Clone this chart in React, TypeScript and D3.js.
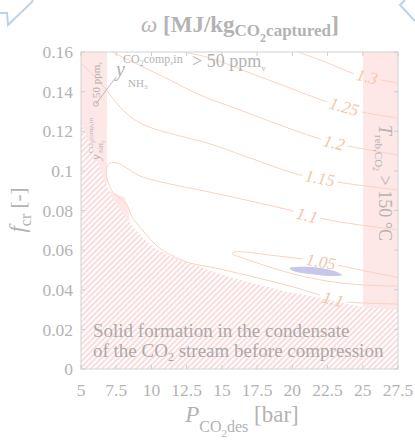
import React from 'react';
import * as d3 from 'd3';

const X_TICKS = [5, 7.5, 10, 12.5, 15, 17.5, 20, 22.5, 25, 27.5];
const Y_TICKS = [0, 0.02, 0.04, 0.06, 0.08, 0.1, 0.12, 0.14, 0.16];
const X_DOMAIN = [5, 27.5];
const Y_DOMAIN = [0, 0.16];

// iso-omega contours: [P_CO2,des (bar), f_cr (-)]
const C_130 = [[20.4, 0.16], [22.32, 0.155], [24.23, 0.1494], [25.3, 0.1474], [26.36, 0.1458], [27.5, 0.1443]];
const C_125 = [[12.24, 0.16], [14.16, 0.157], [17.0, 0.1494], [19.83, 0.1418], [22.67, 0.1343], [23.67, 0.1322], [24.94, 0.1297], [27.5, 0.1267]];
const C_120 = [[7.2, 0.16], [9.19, 0.1532], [11.32, 0.1458], [13.45, 0.1383], [16.29, 0.1307], [19.13, 0.1231], [21.96, 0.1161], [22.96, 0.1141], [23.95, 0.1125], [27.5, 0.108]];
const C_115 = [[5, 0.1544], [5.99, 0.1474], [6.92, 0.1398], [7.77, 0.1322], [8.83, 0.1257], [10.04, 0.1216], [12.03, 0.1176], [14.16, 0.1136], [17.0, 0.1065], [20.54, 0.0979], [21.96, 0.0962], [23.17, 0.0944], [27.5, 0.0903]];
const C_110 = [[27.5, 0.0702], [23.38, 0.0742], [21.96, 0.0762], [21.04, 0.0774], [20.05, 0.0797], [17.0, 0.0848], [13.45, 0.0903], [11.32, 0.0934], [9.19, 0.0974], [8.12, 0.102], [7.56, 0.104], [7.06, 0.104], [6.85, 0.1025], [6.8, 0.0979], [6.95, 0.0939], [7.3, 0.0888], [7.91, 0.0853], [8.34, 0.0818], [8.55, 0.0777], [9.05, 0.0727], [9.54, 0.0686], [10.47, 0.0616], [11.67, 0.0565], [12.74, 0.0535], [14.51, 0.051], [17.0, 0.0469], [19.83, 0.0419], [21.96, 0.0373], [22.89, 0.0351], [23.88, 0.0338], [27.5, 0.0328]];
const C_105 = [[27.5, 0.0462], [24.8, 0.05], [23.17, 0.0525], [22.03, 0.054], [20.76, 0.0555], [18.42, 0.0575], [16.5, 0.0591], [15.93, 0.0591], [15.72, 0.058], [16.29, 0.0565], [17.71, 0.053], [20.05, 0.048], [22.46, 0.0444], [25.02, 0.0424], [27.5, 0.0419]];

const CONTOURS = [C_130, C_125, C_120, C_115, C_110, C_105];
const LABEL_TEXT = ['1.3', '1.25', '1.2', '1.15', '1.1', '1.1', '1.05'];
const LABEL_CONTOUR = [0, 1, 2, 3, 4, 4, 5];
const LABEL_POS = [[25.3, 0.1474], [23.67, 0.1322], [22.96, 0.1141], [21.96, 0.0962], [21.04, 0.0774], [22.89, 0.0351], [22.03, 0.054]];

// optimum region (blue)
const OPTIMUM = [[19.83, 0.051], [20.33, 0.0515], [21.96, 0.051], [23.17, 0.049], [23.53, 0.0474], [22.89, 0.0469], [21.25, 0.048], [20.05, 0.0495]];

// solid formation boundary (hatched below)
const SOLID_BOUNDARY = [[5, 0.1247], [5.5, 0.1156], [6.0, 0.108], [6.35, 0.101], [6.7, 0.0944], [7.2, 0.0868], [7.9, 0.0792], [8.6, 0.0727], [9.4, 0.0661], [10.2, 0.0611], [11.32, 0.057], [12.38, 0.054], [12.95, 0.053], [14.01, 0.05], [15.79, 0.0459], [17.71, 0.0424], [19.34, 0.0394], [21.75, 0.0363], [23.6, 0.0333], [25.02, 0.0313], [27.5, 0.0298]];

// NH3 slip limit region (left) and reboiler temperature limit (right)
const NH3_REGION = [[5, 0.16], [6.85, 0.16], [6.85, 0.0903], [7.55, 0.0885], [8.1, 0.0865], [8.35, 0.082], [8.45, 0.074], [5, 0.074]];
const TREB_REGION = [[25.02, 0.16], [27.5, 0.16], [27.5, 0], [25.02, 0]];

// annotation anchors
const LEADER = [[6.06, 0.1338], [7.5, 0.1475]];

const W = 415, H = 441;
const PX0 = 81, PX1 = 398, PY0 = 52, PY1 = 369;

const GRAY = '#b3b3b3';
const CONTOUR = '#f8d3bd';
const LABEL = '#f3c7aa';
const PINK = '#fde7e7';
const HATCH = '#f7b9b9';
const SERIF = '"Liberation Serif", "Times New Roman", serif';

export default function App() {
  const x = d3.scaleLinear().domain(X_DOMAIN).range([PX0, PX1]);
  const y = d3.scaleLinear().domain(Y_DOMAIN).range([PY1, PY0]);
  const line = d3.line<number[]>().x(d => x(d[0])).y(d => y(d[1]));
  const smooth = d3.line<number[]>().x(d => x(d[0])).y(d => y(d[1])).curve(d3.curveCatmullRom.alpha(0.5));
  const closedSmooth = d3.line<number[]>().x(d => x(d[0])).y(d => y(d[1])).curve(d3.curveCatmullRomClosed.alpha(0.5));

  const hatchPoly = [...SOLID_BOUNDARY, [27.5, 0], [5, 0]];

  const labels = LABEL_TEXT.map((t, k) => {
    const pts = CONTOURS[LABEL_CONTOUR[k]];
    const lp = LABEL_POS[k];
    let bi = 0, bd = Infinity;
    pts.forEach((p, i) => {
      const dd = Math.hypot(x(p[0]) - x(lp[0]), y(p[1]) - y(lp[1]));
      if (dd < bd) { bd = dd; bi = i; }
    });
    const a = pts[Math.max(bi - 1, 0)], b = pts[Math.min(bi + 1, pts.length - 1)];
    let ang = Math.atan2(y(b[1]) - y(a[1]), x(b[0]) - x(a[0])) * 180 / Math.PI;
    if (ang > 90) ang -= 180;
    if (ang < -90) ang += 180;
    const fs = 17;
    const w = t.split('').reduce((s, c) => s + (c === '.' ? 0.25 : 0.5), 0) * fs + 6;
    return { t, px: x(lp[0]), py: y(lp[1]), ang, w, fs };
  });

  const fmtY = (v: number) => (v === 0 ? '0' : String(+v.toFixed(2)));

  return (
    <svg width={W} height={H} style={{ position: 'absolute', left: 0, top: 0, background: '#fff' }} fontFamily={SERIF}>
      <defs>
        <pattern id="hatch" patternUnits="userSpaceOnUse" width={4} height={4} patternTransform="rotate(45)">
          <rect x={0} y={0} width={4} height={4} fill="#ffffff" stroke="none" />
          <line x1={1} y1={-1} x2={1} y2={5} stroke={HATCH} strokeWidth={1} fill="none" />
        </pattern>
        <clipPath id="plotclip">
          <rect x={PX0} y={PY0} width={PX1 - PX0} height={PY1 - PY0} />
        </clipPath>
        <mask id="lblmask" maskUnits="userSpaceOnUse" x={0} y={0} width={W} height={H}>
          <rect x={0} y={0} width={W} height={H} fill="#fff" />
          {labels.map((l, i) => (
            <rect key={i} transform={`translate(${l.px},${l.py}) rotate(${l.ang})`} x={-l.w / 2} y={-7} width={l.w} height={14} fill="#000" />
          ))}
        </mask>
      </defs>

      {/* corner decorations */}
      <polyline points="0,13 7,13 8,25 32,2 33,0" fill="none" stroke="#b9d4ea" strokeWidth={2} />
      <polyline points="405,0 400,5 415,21" fill="none" stroke="#b9d4ea" strokeWidth={2} />

      {/* title */}
      <text x={240} y={32} textAnchor="middle" fill={GRAY} fontSize={23}>
        <tspan fontStyle="italic">ω </tspan>
        <tspan fontWeight="bold">[MJ/kg</tspan>
        <tspan fontWeight="bold" fontSize={17} dy={4}>CO</tspan>
        <tspan fontWeight="bold" fontSize={12} dy={6}>2</tspan>
        <tspan fontWeight="bold" fontSize={17} dy={-6}>captured</tspan>
        <tspan fontWeight="bold" fontSize={24} dy={-4}>]</tspan>
      </text>

      <g clipPath="url(#plotclip)">
        <rect x={PX0} y={PY0} width={PX1 - PX0} height={PY1 - PY0} fill="#fff" />
        <path d={line(NH3_REGION) + 'Z'} fill={PINK} />
        <path d={line(TREB_REGION) + 'Z'} fill={PINK} />
        <path d={line(hatchPoly) + 'Z'} fill="url(#hatch)" stroke="none" />
        <path d={closedSmooth(OPTIMUM) || ''} fill="#c5c7eb" />
        <g mask="url(#lblmask)">
          {CONTOURS.map((c, i) => (
            <path key={i} d={smooth(c) || ''} fill="none" stroke={CONTOUR} strokeWidth={1} />
          ))}
        </g>
        {labels.map((l, i) => (
          <text key={i} transform={`translate(${l.px},${l.py}) rotate(${l.ang})`} textAnchor="middle" dominantBaseline="central"
            fontSize={l.fs} fontStyle="italic" fill={LABEL}>{l.t}</text>
        ))}
      </g>

      {/* frame & ticks */}
      <rect x={PX0} y={PY0} width={PX1 - PX0} height={PY1 - PY0} fill="none" stroke="#d2d2d2" strokeWidth={1} />
      {X_TICKS.map((v, i) => (
        <g key={'x' + i}>
          <line x1={x(v)} x2={x(v)} y1={PY1} y2={PY1 - 4} stroke="#cfcfcf" />
          <line x1={x(v)} x2={x(v)} y1={PY0} y2={PY0 + 4} stroke="#cfcfcf" />
          <text x={x(v)} y={396} textAnchor="middle" fontSize={17.5} fill={GRAY}>{v}</text>
        </g>
      ))}
      {Y_TICKS.map((v, i) => (
        <g key={'y' + i}>
          <line x1={PX0} x2={PX0 + 4} y1={y(v)} y2={y(v)} stroke="#cfcfcf" />
          <line x1={PX1} x2={PX1 - 4} y1={y(v)} y2={y(v)} stroke="#cfcfcf" />
          <text x={73} y={y(v)} dy="0.35em" textAnchor="end" fontSize={17.5} fill={GRAY}>{fmtY(v)}</text>
        </g>
      ))}

      {/* upper annotation */}
      <line x1={x(LEADER[0][0])} y1={y(LEADER[0][1])} x2={x(LEADER[1][0])} y2={y(LEADER[1][1])} stroke="#a9a9a9" strokeWidth={0.8} />
      <circle cx={x(LEADER[0][0])} cy={y(LEADER[0][1])} r={2.4} fill="none" stroke="#a9a9a9" strokeWidth={0.8} />
      <text x={116} y={76} fontSize={20} fontStyle="italic" fill={GRAY}>y</text>
      <text x={123} y={63} fontSize={12} fill={GRAY}>CO<tspan fontSize={8} dy={3}>2</tspan><tspan dy={-3}>comp,in</tspan></text>
      <text x={128} y={87} fontSize={11} fill={GRAY}>NH<tspan fontSize={7} dy={2}>3</tspan></text>
      <text x={192} y={67} fontSize={18} fill={GRAY}>&gt; 50 ppm<tspan fontSize={9} dy={4}>v</tspan></text>

      {/* left band annotation */}
      <g transform="translate(100,160) rotate(-90)" fill={GRAY}>
        <text x={0} y={0} fontSize={13} fontStyle="italic">y</text>
        <text x={7} y={-7} fontSize={7}>CO<tspan fontSize={5} dy={1.5}>2</tspan><tspan dy={-1.5}>comp,in</tspan></text>
        <text x={7} y={3} fontSize={7}>NH<tspan fontSize={5} dy={1.5}>3</tspan></text>
        <text x={62} y={0} fontSize={11}>50 ppm<tspan fontSize={6} dy={2}>v</tspan></text>
      </g>

      {/* right band annotation */}
      <g transform="translate(379,125) rotate(90)" fill={GRAY}>
        <text x={0} y={0} fontSize={18}>
          <tspan fontStyle="italic">T</tspan>
          <tspan fontSize={11} dy={4}>reb,CO</tspan>
          <tspan fontSize={8} dy={2}>2</tspan>
          <tspan fontSize={18} dy={-6}> &gt; 150 °C</tspan>
        </text>
      </g>

      {/* solid formation text */}
      <text x={93} y={337} fontSize={19} fill="#a9a9a9">Solid formation in the condensate</text>
      <text x={93} y={357} fontSize={19} fill="#a9a9a9">of the CO<tspan fontSize={12} dy={4}>2</tspan><tspan dy={-4}> stream before compression</tspan></text>

      {/* axis labels */}
      <text x={242} y={422} textAnchor="middle" fill={GRAY} fontSize={23}>
        <tspan fontStyle="italic">P</tspan>
        <tspan fontSize={16} dy={10}>CO</tspan>
        <tspan fontSize={11} dy={5}>2</tspan>
        <tspan fontSize={16} dy={-5}>des</tspan>
        <tspan fontSize={23} dy={-10}> [bar]</tspan>
      </text>
      <g transform="translate(25,210) rotate(-90)">
        <text x={0} y={0} textAnchor="middle" fill={GRAY} fontSize={23}>
          <tspan fontStyle="italic">f</tspan>
          <tspan fontSize={16} dy={6}>cr</tspan>
          <tspan fontSize={21} dy={-6}> [-]</tspan>
        </text>
      </g>
    </svg>
  );
}
